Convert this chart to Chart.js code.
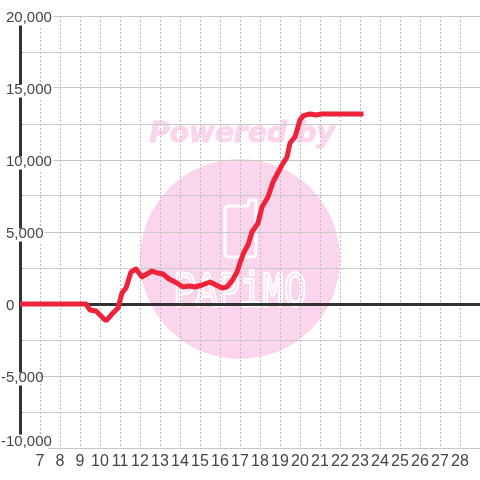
<!DOCTYPE html>
<html>
<head>
<meta charset="utf-8">
<style>
html, body { margin: 0; padding: 0; background: #fff; }
#wrap { width: 480px; height: 480px; }
</style>
<script src="https://cdn.jsdelivr.net/npm/chart.js@4"></script>
</head>
<body>
<div id="wrap"><canvas id="myChart" width="480" height="480"></canvas></div>
<script>
var hours = [6, 9.3, 9.5, 9.8, 10.25, 10.35, 10.65, 10.9, 11.1, 11.3, 11.55, 11.8, 12.1, 12.6, 12.9, 13.15, 13.45, 13.75, 14.15, 14.5, 14.75, 15.1, 15.5, 15.8, 16.1, 16.35, 16.6, 16.85, 17, 17.2, 17.4, 17.6, 17.9, 18.1, 18.4, 18.65, 19.1, 19.35, 19.5, 19.75, 20, 20.15, 20.5, 20.85, 21.05, 23.05];
var balance = [0, 0, -420, -490, -1110, -1110, -620, -280, 770, 1110, 2220, 2430, 1880, 2290, 2150, 2080, 1740, 1530, 1180, 1250, 1180, 1320, 1530, 1320, 1110, 1180, 1600, 2220, 2850, 3610, 4090, 5000, 5620, 6740, 7430, 8470, 9650, 10210, 11180, 11600, 12780, 13060, 13200, 13130, 13200, 13200];
var xMin = 6, xMax = 29;
var yMin = -10000, yMax = 20000;

var textColor = "#444";
var gridColor = "#c8c8c8";
var axisColor = "#333";
var pink = "#fbd5ec";

// watermark sits behind the grid
var watermark = {
	id: "watermark",
	beforeDraw: function (chart) {
		var ctx = chart.ctx;
		ctx.save();
		ctx.fillStyle = "#fff";
		ctx.fillRect(0, 0, 480, 480);
		ctx.fillStyle = pink;
		ctx.beginPath();
		ctx.arc(240, 259, 100, 0, Math.PI * 2);
		ctx.fill();
		ctx.font = "italic bold 28px 'DejaVu Sans'";
		ctx.textAlign = "center";
		ctx.textBaseline = "middle";
		ctx.strokeStyle = pink;
		ctx.lineWidth = 1;
		ctx.fillText("Powered by", 242, 135);
		ctx.strokeText("Powered by", 242, 135);
		ctx.strokeStyle = "#fff";
		ctx.lineWidth = 3;
		ctx.lineJoin = "round";
		ctx.beginPath();
		ctx.moveTo(229, 206);
		ctx.lineTo(248, 206);
		ctx.lineTo(249, 200);
		ctx.lineTo(256, 200);
		ctx.lineTo(256, 253);
		ctx.quadraticCurveTo(256, 257, 252, 257);
		ctx.lineTo(229, 257);
		ctx.quadraticCurveTo(225, 257, 225, 253);
		ctx.lineTo(225, 210);
		ctx.quadraticCurveTo(225, 206, 229, 206);
		ctx.stroke();
		ctx.font = "38px 'Liberation Mono'";
		ctx.textBaseline = "alphabetic";
		ctx.lineWidth = 2;
		ctx.translate(240, 306);
		ctx.scale(0.97, 1.3);
		ctx.strokeText("PAPiMO", 0, 0);
		ctx.restore();
	},
	// y labels sit a little low, negative ones hang out to the left,
	// the bottom one is lifted off the x labels
	afterLayout: function (chart) {
		chart.scales.y.getLabelItems().forEach(function (item) {
			var bottom = item.label === "-10,000";
			var dx = String(item.label).charAt(0) === "-" ? -5 : 0;
			var dy = bottom ? -6.5 : 1.5;
			item.options.translation[0] += dx;
			item.options.translation[1] += dy;
			if (item.options.backdrop) {
				item.options.backdrop.left += dx;
				item.options.backdrop.top += dy;
				if (bottom) {
					item.options.backdrop.top += 6;
					item.options.backdrop.height += 2;
				}
			}
		});
	},
};

new Chart("myChart", {
	type: "line",
	data: {
		datasets: [
			{
				data: hours.map(function (h, i) {
					return { x: h, y: balance[i] };
				}),
				borderColor: "#ee2238",
				borderWidth: 5,
				borderJoinStyle: "round",
				borderCapStyle: "square",
				pointRadius: 0,
				tension: 0,
				fill: false,
			},
		],
	},
	options: {
		responsive: false,
		animation: false,
		layout: { padding: { top: 16 } },
		plugins: {
			legend: { display: false },
			title: { display: false },
			tooltip: { enabled: false },
		},
		scales: {
			x: {
				type: "linear",
				min: xMin,
				max: xMax,
				afterFit: function (scale) {
					scale.height = 32;
				},
				border: { display: false, dash: [2, 2] },
				grid: {
					drawTicks: false,
					color: function (ctx) {
						var v = ctx.tick.value;
						return v === xMin || v === xMax ? "rgba(0,0,0,0)" : "#bbb";
					},
					lineWidth: 1,
				},
				ticks: {
					stepSize: 1,
					autoSkip: false,
					maxRotation: 0,
					padding: 4,
					color: textColor,
					font: { family: "'Liberation Sans'", size: 16 },
					callback: function (v) {
						return v === xMin || v === xMax ? null : String(v);
					},
				},
			},
			y: {
				min: yMin,
				max: yMax,
				afterFit: function (scale) {
					scale.width = 20;
				},
				border: { display: true, color: axisColor, width: 3 },
				grid: {
					drawTicks: false,
					color: function (ctx) {
						return ctx.tick.value === 0 ? axisColor : gridColor;
					},
					lineWidth: function (ctx) {
						return ctx.tick.value === 0 ? 3 : 1;
					},
				},
				ticks: {
					stepSize: 2500,
					autoSkip: false,
					mirror: true,
					crossAlign: "near",
					padding: -14,
					color: textColor,
					font: { family: "'Liberation Sans'", size: 15 },
					showLabelBackdrop: function (ctx) {
						return ctx.tick.value % 5000 === 0 && ctx.tick.value !== 0;
					},
					backdropColor: "#fff",
					backdropPadding: { top: -2.5, bottom: -2.5, left: 1, right: 1 },
					callback: function (v) {
						return v % 5000 === 0 ? v.toLocaleString("en-US") : "";
					},
				},
			},
		},
	},
	plugins: [watermark],
});
</script>
</body>
</html>
